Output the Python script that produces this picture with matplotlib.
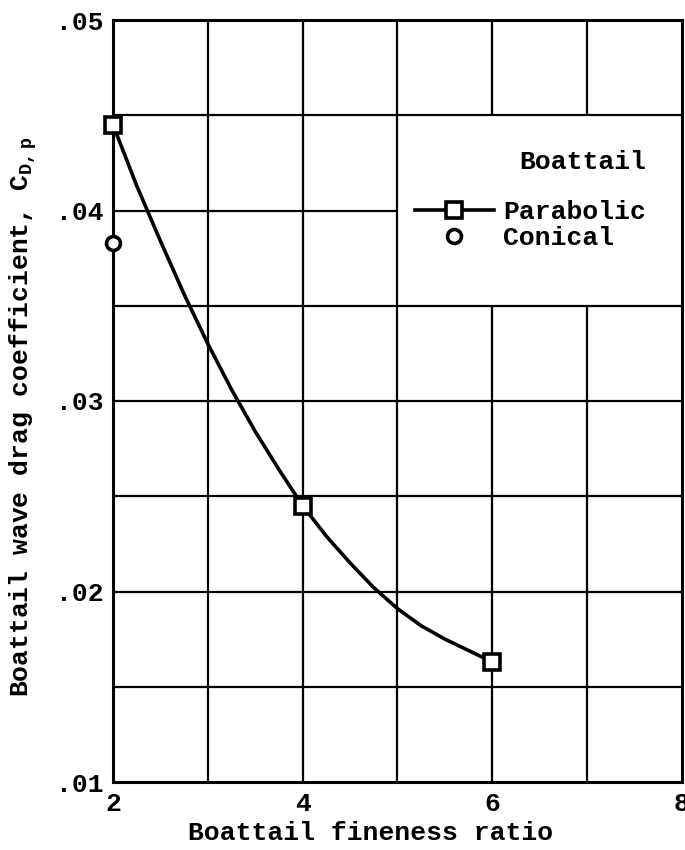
import matplotlib
matplotlib.use("Agg")
import matplotlib.pyplot as plt

# values
fineness = [2, 4, 6]
cd_parabolic = [0.0445, 0.0245, 0.0163]
fineness_conical = [2]
cd_conical = [0.0383]

# faired curve through the parabolic points
fair_x = [2, 2.25, 2.5, 2.75, 3, 3.25, 3.5, 3.75, 4, 4.25, 4.5, 4.75, 5, 5.25, 5.5, 5.75, 6]
fair_y = [0.0445, 0.0413, 0.0384, 0.0356, 0.0330, 0.0306, 0.0284, 0.0264, 0.0245,
          0.0229, 0.0215, 0.0202, 0.0191, 0.0182, 0.0175, 0.0169, 0.0163]

x_ticks = [2, 4, 6, 8]
y_ticks = [0.01, 0.02, 0.03, 0.04, 0.05]
y_tick_labels = ['.01', '.02', '.03', '.04', '.05']

plt.rcParams['font.family'] = ['Liberation Mono', 'DejaVu Sans Mono']
plt.rcParams['font.weight'] = 'bold'
plt.rcParams['axes.labelweight'] = 'bold'
plt.rcParams['mathtext.fontset'] = 'custom'
plt.rcParams['mathtext.rm'] = 'Liberation Mono:bold'

FS = 19

fig = plt.figure(figsize=(6.85, 8.5), dpi=100)
ax = fig.add_axes([113 / 685, 68 / 850, 569 / 685, 762 / 850])
ax.set_xlim(2, 8)
ax.set_ylim(0.01, 0.05)

# grid, with a blank patch behind the legend
gkw = dict(color='black', lw=1.6, zorder=1)
for gx in [3, 4, 5]:
    ax.vlines(gx, 0.01, 0.05, **gkw)
for gx in [6, 7]:
    ax.vlines(gx, 0.01, 0.035, **gkw)
    ax.vlines(gx, 0.045, 0.05, **gkw)
for gy in [0.015, 0.02, 0.025, 0.03, 0.035, 0.045]:
    ax.hlines(gy, 2, 8, **gkw)
ax.hlines(0.04, 2, 5, **gkw)

for s in ax.spines.values():
    s.set_linewidth(2.2)

ax.plot(fair_x, fair_y, color='black', lw=2.6, zorder=3)
ax.plot(fineness, cd_parabolic, ls='none', marker='s', ms=12, mfc='white',
        mec='black', mew=2.6, zorder=4, clip_on=False)
ax.plot(fineness_conical, cd_conical, ls='none', marker='o', ms=10, mfc='white',
        mec='black', mew=2.6, zorder=4, clip_on=False)

ax.set_xticks(x_ticks)
ax.set_xticklabels([str(v) for v in x_ticks])
ax.set_yticks(y_ticks)
ax.set_yticklabels(y_tick_labels)
ax.tick_params(length=0, labelsize=FS, pad=7)

ax.set_xlabel('Boattail fineness ratio', fontsize=FS)
ax.set_ylabel(r'Boattail wave drag coefficient, $\mathregular{C_{D,p}}$', fontsize=FS)
ax.xaxis.set_label_coords(0.453, -0.051)
ax.yaxis.set_label_coords(-0.13, 0.48)

h1, = ax.plot([], [], color='black', lw=2.6, marker='s', ms=12, mfc='white', mec='black', mew=2.6)
h2, = ax.plot([], [], ls='none', marker='o', ms=10, mfc='white', mec='black', mew=2.6)
leg = ax.legend([h1, h2], ['Parabolic', 'Conical'], frameon=False,
                loc='upper right', bbox_to_anchor=(0.96, 0.781), fontsize=FS,
                handlelength=3.0, handletextpad=0.35,
                labelspacing=0.08, borderpad=0, numpoints=1)
leg.set_zorder(5)
ax.text(0.937, 0.814, 'Boattail', transform=ax.transAxes, ha='right', va='center',
        fontsize=FS, zorder=5)

fig.savefig('out.png', dpi=100, facecolor='white')
